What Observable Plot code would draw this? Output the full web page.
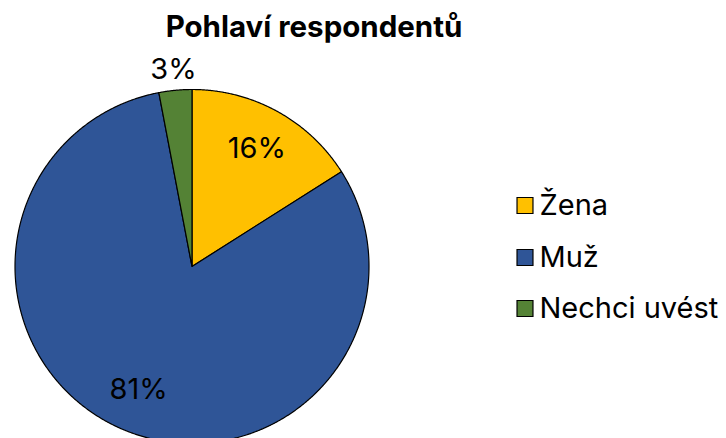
<!DOCTYPE html>
<html><head><meta charset="utf-8">
<script src="https://cdn.jsdelivr.net/npm/d3@7"></script>
<script src="https://cdn.jsdelivr.net/npm/@observablehq/plot@0.6"></script>
<style>body{margin:0;background:#fff;overflow:hidden}</style>
</head><body><div id="chart"></div>
<script>
const title = "Pohlaví respondentů";
const categories = ["Žena", "Muž", "Nechci uvést"];
const values = [16, 81, 3];
const labels = ["16%", "81%", "3%"];
const colors = ["#FFC000", "#2F5597", "#548235"];

const W = 726, H = 438, cx = 191.5, cy = 266, R = 177;
const X = p => (p - cx) / R, Y = p => (cy - p) / R;

const rows = categories.map((c, i) => ({category: c, value: values[i], label: labels[i]}));
const arcs = d3.pie().sort(null).value(d => d.value)(rows);

const pts = [];
arcs.forEach(a => {
  pts.push({category: a.data.category, x: 0, y: 0});
  const n = Math.max(2, Math.ceil((a.endAngle - a.startAngle) / 0.005));
  for (let k = 0; k <= n; k++) {
    const t = a.startAngle + (a.endAngle - a.startAngle) * k / n;
    pts.push({category: a.data.category, x: Math.sin(t), y: Math.cos(t)});
  }
});

const labelPts = arcs.map(a => {
  const m = (a.startAngle + a.endAngle) / 2;
  const outside = a.data.value < 5;
  const r = outside ? 1.115 : 0.76;
  return {label: a.data.label, x: r * Math.sin(m), y: r * Math.cos(m)};
});

const legendY = [205, 257, 308];
const legend = categories.map((c, i) => ({category: c, x: X(524.5), tx: X(539), y: Y(legendY[i])}));

const chart = Plot.plot({
  width: W, height: H,
  margin: 0,
  style: {fontFamily: "Inter, sans-serif", background: "#fff"},
  x: {domain: [X(0), X(W)], axis: null},
  y: {domain: [Y(H), Y(0)], axis: null},
  color: {domain: categories, range: colors},
  marks: [
    Plot.line(pts, {x: "x", y: "y", z: "category", fill: "category", stroke: "black", strokeWidth: 1.2, curve: "linear-closed"}),
    Plot.text(labelPts, {x: "x", y: "y", text: "label", fontSize: 29, fill: "black"}),
    Plot.text([title], {x: X(313.5), y: Y(27), text: d => d, fontSize: 29.5, fontWeight: "bold", fill: "black"}),
    Plot.dot(legend, {x: "x", y: "y", fill: "category", stroke: "black", strokeWidth: 1.2, symbol: "square", r: 9}),
    Plot.text(legend, {x: "tx", y: "y", text: "category", textAnchor: "start", fontSize: 29, fill: "black"})
  ]
});
document.getElementById("chart").append(chart);
</script>
</body></html>
